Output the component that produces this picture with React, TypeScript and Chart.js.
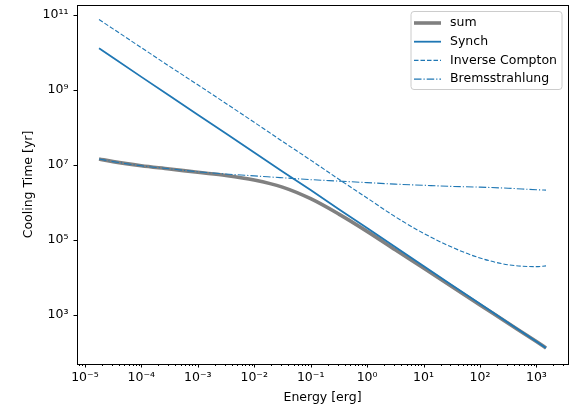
import React, { useEffect, useRef } from 'react';
import { Chart, registerables } from 'chart.js';

Chart.register(...registerables);

// Energy grid [erg]
const energy = [1.78e-5, 3.16e-5, 1e-4, 3.16e-4, 1e-3, 3.16e-3, 1e-2, 3.16e-2, 0.1, 0.316, 1, 3.16, 10, 31.6, 100, 316, 1000, 1480];
// Cooling times [yr]
const tSum = [1.45e7, 1.23e7, 9.55e6, 7.85e6, 6.38e6, 5.25e6, 3.98e6, 2.57e6, 1.26e6, 4.9e5, 1.7e5, 5.5e4, 1.78e4, 5.75e3, 1.86e3, 603, 195, 132];
const tSynch = [1.29e10, 7.24e9, 2.24e9, 7.08e8, 2.19e8, 6.92e7, 2.14e7, 6.76e6, 2.14e6, 6.61e5, 2.09e5, 6.46e4, 2.04e4, 6.31e3, 2.0e3, 617, 195, 132];
const tIC = [7.59e10, 4.27e10, 1.35e10, 4.27e9, 1.38e9, 4.37e8, 1.38e8, 4.27e7, 1.35e7, 4.17e6, 1.32e6, 4.17e5, 1.51e5, 6.46e4, 3.31e4, 2.19e4, 1.95e4, 2.04e4];
const tBrems = [1.45e7, 1.23e7, 9.55e6, 7.94e6, 6.61e6, 5.75e6, 5.13e6, 4.57e6, 4.07e6, 3.72e6, 3.39e6, 3.09e6, 2.88e6, 2.69e6, 2.57e6, 2.4e6, 2.19e6, 2.14e6];

const seriesLabels = ['sum', 'Synch', 'Inverse Compton', 'Bremsstrahlung'];
const xMajorExps = [-6, -5, -4, -3, -2, -1, 0, 1, 2, 3, 4];
const xMinorMults = [2, 3, 4, 5, 6, 7, 8, 9];
const yMajorExps = [3, 5, 7, 9, 11];
const xLabel = 'Energy [erg]';
const yLabel = 'Cooling Time [yr]';

const X_MIN = Math.pow(10, -5.14);
const X_MAX = Math.pow(10, 3.56);
const Y_MIN = Math.pow(10, 1.693);
const Y_MAX = Math.pow(10, 11.267);

const FONT = 'DejaVu Sans';
const FS = 12.5;
const C0 = '#1f77b4';

const SUP: Record<string, string> = {
  '-': '\u207b', '0': '\u2070', '1': '\u00b9', '2': '\u00b2', '3': '\u00b3',
  '4': '\u2074', '5': '\u2075', '6': '\u2076', '7': '\u2077', '8': '\u2078', '9': '\u2079',
};
const powLabel = (e: number) => '10' + String(e).split('').map((c) => SUP[c] || c).join('');

const isDecade = (v: number) => {
  const l = Math.log10(v);
  return Math.abs(l - Math.round(l)) < 1e-6;
};

const xTickValues: number[] = [];
xMajorExps.forEach((e) => {
  xTickValues.push(Math.pow(10, e));
  xMinorMults.forEach((m) => xTickValues.push(m * Math.pow(10, e)));
});
const xTicksInRange = xTickValues.filter((v) => v >= X_MIN && v <= X_MAX).sort((a, b) => a - b);
const yTickValues = yMajorExps.map((e) => Math.pow(10, e));

const frame = {
  id: 'mplFrame',
  afterDraw(chart: any) {
    const { ctx, chartArea } = chart;
    const xs = chart.scales.x;
    const ys = chart.scales.y;
    const { left, right, top, bottom } = chartArea;
    ctx.save();
    ctx.strokeStyle = '#000';
    ctx.lineWidth = 1;
    // ticks
    ctx.beginPath();
    xTicksInRange.forEach((v) => {
      const px = Math.round(xs.getPixelForValue(v)) + 0.5;
      const len = isDecade(v) ? 3.5 : 2;
      ctx.moveTo(px, bottom);
      ctx.lineTo(px, bottom + len);
    });
    yTickValues.forEach((v) => {
      const py = Math.round(ys.getPixelForValue(v)) + 0.5;
      ctx.moveTo(left, py);
      ctx.lineTo(left - 3.5, py);
    });
    ctx.stroke();
    // spines
    ctx.strokeRect(Math.round(left) + 0.5, Math.round(top) + 0.5, Math.round(right - left), Math.round(bottom - top));

    // legend
    const lx = 411, ly = 11.5, lw = 151, lh = 78, r = 3;
    ctx.beginPath();
    ctx.moveTo(lx + r, ly);
    ctx.lineTo(lx + lw - r, ly);
    ctx.arcTo(lx + lw, ly, lx + lw, ly + r, r);
    ctx.lineTo(lx + lw, ly + lh - r);
    ctx.arcTo(lx + lw, ly + lh, lx + lw - r, ly + lh, r);
    ctx.lineTo(lx + r, ly + lh);
    ctx.arcTo(lx, ly + lh, lx, ly + lh - r, r);
    ctx.lineTo(lx, ly + r);
    ctx.arcTo(lx, ly, lx + r, ly, r);
    ctx.closePath();
    ctx.fillStyle = 'rgba(255,255,255,0.8)';
    ctx.fill();
    ctx.strokeStyle = '#cccccc';
    ctx.lineWidth = 1;
    ctx.stroke();

    const ds = chart.data.datasets;
    ctx.font = `${FS}px "${FONT}"`;
    ctx.textBaseline = 'middle';
    ctx.textAlign = 'left';
    ds.forEach((d: any, i: number) => {
      const cy = 23 + i * 18.7;
      ctx.beginPath();
      ctx.setLineDash(d.borderDash || []);
      ctx.strokeStyle = d.borderColor;
      ctx.lineWidth = d.borderWidth;
      ctx.moveTo(414, cy);
      ctx.lineTo(441, cy);
      ctx.stroke();
      ctx.setLineDash([]);
      ctx.fillStyle = '#000';
      ctx.fillText(d.label, 450, cy);
    });
    ctx.restore();
  },
};

export default function App() {
  const ref = useRef<HTMLCanvasElement | null>(null);
  useEffect(() => {
    document.body.style.margin = '0';
    if (!ref.current) return;
    const pts = (arr: number[]) => energy.map((e, i) => ({ x: e, y: arr[i] }));
    const chart = new Chart(ref.current, {
      type: 'line',
      data: {
        datasets: [
          { label: seriesLabels[0], data: pts(tSum), borderColor: '#808080', borderWidth: 3.6, order: 1, cubicInterpolationMode: 'monotone' },
          { label: seriesLabels[1], data: pts(tSynch), borderColor: C0, borderWidth: 1.8, order: 0 },
          { label: seriesLabels[2], data: pts(tIC), borderColor: C0, borderWidth: 1.1, borderDash: [4.5, 2], order: 0, cubicInterpolationMode: 'monotone' },
          { label: seriesLabels[3], data: pts(tBrems), borderColor: C0, borderWidth: 1.1, borderDash: [7.5, 2, 1.2, 2], order: 0, cubicInterpolationMode: 'monotone' },
        ] as any,
      },
      options: {
        responsive: false,
        animation: false,
        devicePixelRatio: 1,
        parsing: false as any,
        elements: { point: { radius: 0, hoverRadius: 0 } },
        layout: { padding: { top: 5, right: 2, left: 0, bottom: 0 } },
        plugins: { legend: { display: false }, tooltip: { enabled: false } },
        events: [],
        scales: {
          x: {
            type: 'logarithmic',
            min: X_MIN,
            max: X_MAX,
            afterFit: (s: any) => { s.height = 44; s.paddingLeft = 0; s.paddingRight = 0; },
            afterBuildTicks: (s: any) => { s.ticks = xTicksInRange.map((v) => ({ value: v, major: false })); },
            ticks: {
              autoSkip: false,
              maxRotation: 0,
              minRotation: 0,
              padding: 3,
              color: '#000',
              font: { family: FONT, size: FS },
              callback: (v: any) => (isDecade(Number(v)) ? powLabel(Math.round(Math.log10(Number(v)))) : ''),
            },
            grid: { display: true, drawOnChartArea: false, drawTicks: true, tickLength: 3.5, color: 'rgba(0,0,0,0)' },
            border: { display: false },
            title: { display: true, text: xLabel, color: '#000', font: { family: FONT, size: FS }, padding: { top: 0, bottom: 2.8 } },
          },
          y: {
            type: 'logarithmic',
            min: Y_MIN,
            max: Y_MAX,
            afterFit: (s: any) => { s.width = 77; s.paddingTop = 0; s.paddingBottom = 0; },
            afterBuildTicks: (s: any) => { s.ticks = yTickValues.map((v) => ({ value: v, major: false })); },
            ticks: {
              autoSkip: false,
              padding: 5,
              color: '#000',
              font: { family: FONT, size: FS },
              callback: (v: any) => powLabel(Math.round(Math.log10(Number(v)))),
            },
            grid: { display: true, drawOnChartArea: false, drawTicks: true, tickLength: 3.5, color: 'rgba(0,0,0,0)' },
            border: { display: false },
            title: { display: true, text: yLabel, color: '#000', font: { family: FONT, size: FS }, padding: { top: 21.5, bottom: 0 } },
          },
        },
      } as any,
      plugins: [frame],
    });
    return () => chart.destroy();
  }, []);
  return (
    <div style={{ position: 'absolute', left: 0, top: 0, width: 570, height: 408 }}>
      <canvas ref={ref} width={570} height={408} style={{ width: 570, height: 408, display: 'block' }} />
    </div>
  );
}
